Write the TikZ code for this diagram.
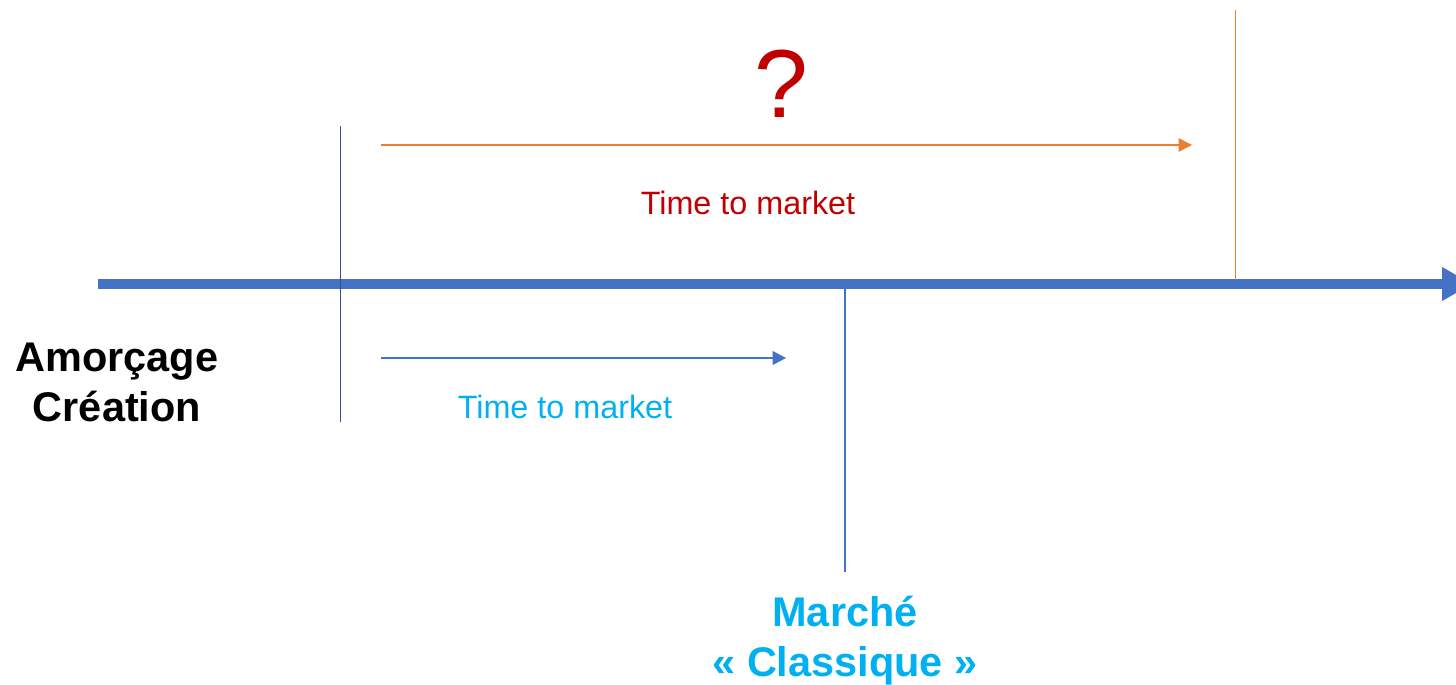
\documentclass[tikz,border=0pt]{standalone}
\usepackage{fontspec}
\setmainfont{Liberation Sans}
\usetikzlibrary{arrows.meta}

\definecolor{axisblue}{HTML}{4472C4}
\definecolor{tmorange}{HTML}{ED7D31}
\definecolor{tmred}{HTML}{C00000}
\definecolor{tmcyan}{HTML}{00B0F0}

\tikzset{
	phase/.style={font=\fontsize{23.6}{28.5}\selectfont\bfseries, align=center},
	tmlabel/.style={font=\fontsize{18.4}{22}\selectfont},
	tick/.style={line width=0.02cm}
}

\begin{document}
\begin{tikzpicture}[x=0.02cm, y=-0.02cm]
		%%%%% START %%%%%
		\useasboundingbox (0, 0) rectangle (1456, 685);
		
		% time axis
		\coordinate (axisstart) at (98, 284);
		\coordinate (axisend) at (1472, 284);
		\draw[axisblue, line width=0.19cm, -{Triangle[length=0.6cm, width=0.64cm]}] (axisstart) -- (axisend);
		
		% milestones
		\coordinate (startTop) at (340, 126);
		\coordinate (startBot) at (340, 422);
		\draw[tick, color=axisblue!70!black] (startTop) -- (startBot);
		
		\coordinate (lateTop) at (1235, 10);
		\coordinate (lateBot) at (1235, 280);
		\draw[tick, color=tmorange] (lateTop) -- (lateBot);
		
		\coordinate (marketTop) at (845, 289);
		\coordinate (marketBot) at (845, 572);
		\draw[line width=0.04cm, color=axisblue] (marketTop) -- (marketBot);
		
		% time to market, unknown
		\coordinate (longFrom) at (381, 145);
		\coordinate (longTo) at (1192, 145);
		\draw[line width=0.03cm, color=tmorange, -{Triangle[length=0.27cm, width=0.27cm]}] (longFrom) -- (longTo);
		\node[color=tmred, font=\fontsize{55}{58}\selectfont] (question) at (781, 84) {?};
		\node[tmlabel, color=tmred] (longLabel) at (748, 203) {Time to market};
		
		% time to market, classic
		\coordinate (shortFrom) at (381, 358);
		\coordinate (shortTo) at (786, 358);
		\draw[line width=0.022cm, color=axisblue, -{Triangle[length=0.27cm, width=0.28cm]}] (shortFrom) -- (shortTo);
		\node[tmlabel, color=tmcyan] (shortLabel) at (565, 407) {Time to market};
		
		% phases
		\node[phase] (amorcage) at (117, 382) {Amorçage\\Création};
		\node[phase, color=tmcyan] (marche) at (845, 641) {Marché\\« Classique »};
		
		%%%%% END %%%%%
	\end{tikzpicture}
\end{document}
